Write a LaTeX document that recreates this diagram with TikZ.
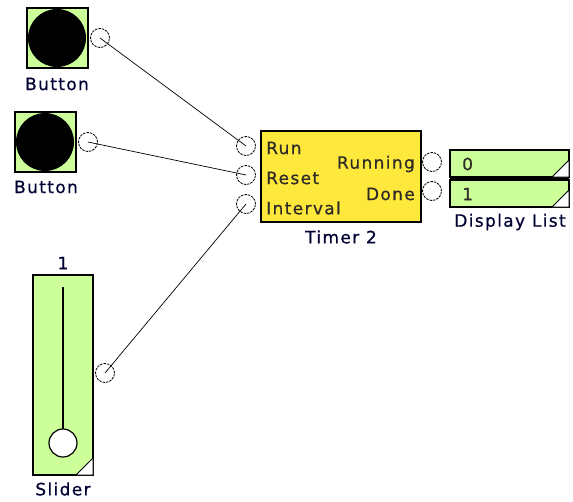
\documentclass[tikz,border=0pt]{standalone}
\usepackage{fontspec}
\setmainfont{DejaVu Sans}[LetterSpace=8, FakeBold=0.6]
\begin{document}
\begin{tikzpicture}[x=1pt,y=-1pt,
  lbl/.style={font=\fontsize{17}{19}\selectfont, text=black!80!blue, inner sep=0pt},
  tlbl/.style={font=\fontsize{17}{19}\selectfont, text=black!90!olive, inner sep=0pt},
  port/.style={circle, draw=black, dash pattern=on 2.5pt off 1pt, line width=0.8pt, minimum size=19pt, inner sep=0pt},
  gbox/.style={draw=black, line width=1.2pt, fill=greenf},
  wire/.style={draw=black, line width=0.7pt}]
\definecolor{greenf}{RGB}{204,255,153}
\definecolor{yellowf}{RGB}{255,232,60}
\useasboundingbox (0,0) rectangle (573,501);
% Button 1
\path[gbox] (27,8) rectangle (88,68);
\fill[black] (57,38) circle (29);
\node[lbl] (b1l) at (57,84) {Button};
\node[port] (b1p) at (100,38) {};
% Button 2
\path[gbox] (15,112) rectangle (76,172);
\fill[black] (45,142) circle (29);
\node[lbl] (b2l) at (46,187) {Button};
\node[port] (b2p) at (88,142) {};
% Timer
\node[draw=black, line width=1.2pt, fill=yellowf, minimum width=160pt, minimum height=91pt, inner sep=0pt] (timer) at (341,176.5) {};
\node[tlbl, anchor=west] (run) at (266,148) {Run};
\node[tlbl, anchor=west] (reset) at (266,178) {Reset};
\node[tlbl, anchor=west] (interval) at (266,208) {Interval};
\node[tlbl, anchor=east] (running) at (415,164) {Running};
\node[tlbl, anchor=east] (done) at (415,194) {Done};
\node[lbl] (tl) at (341,237) {Timer 2};
\node[port] (pin1) at (246,146) {};
\node[port] (pin2) at (246,175) {};
\node[port] (pin3) at (246,204) {};
\node[port] (pout1) at (432,162) {};
\node[port] (pout2) at (432,191) {};
% Display list
\path[gbox] (450,150) rectangle (569,177);
\path[gbox] (450,180) rectangle (569,207);
\draw[black, line width=2.5pt] (450,178.5) -- (569,178.5);
\fill[white, draw=black, line width=0.8pt] (569,160) -- (569,177) -- (552,177) -- cycle;
\fill[white, draw=black, line width=0.8pt] (569,190) -- (569,207) -- (552,207) -- cycle;
\node[tlbl, anchor=west] (d0) at (462,164) {0};
\node[tlbl, anchor=west] (d1) at (462,194) {1};
\node[lbl] (dl) at (510,222) {Display List};
% Slider
\path[gbox] (33,275) rectangle (93,475);
\draw[black, line width=1.2pt] (63,287) -- (63,430);
\node[circle, draw=black, line width=1.2pt, fill=white, minimum size=28pt, inner sep=0pt] (knob) at (63,443) {};
\fill[white, draw=black, line width=0.8pt] (93,458) -- (93,475) -- (76,475) -- cycle;
\node[lbl] (sv) at (63,263) {1};
\node[lbl] (sl) at (63,489) {Slider};
\node[port] (sp) at (105,373) {};
% wires
\draw[wire] (b1p.center) -- (pin1.center);
\draw[wire] (b2p.center) -- (pin2.center);
\draw[wire] (sp.center) -- (pin3.center);
\end{tikzpicture}
\end{document}
